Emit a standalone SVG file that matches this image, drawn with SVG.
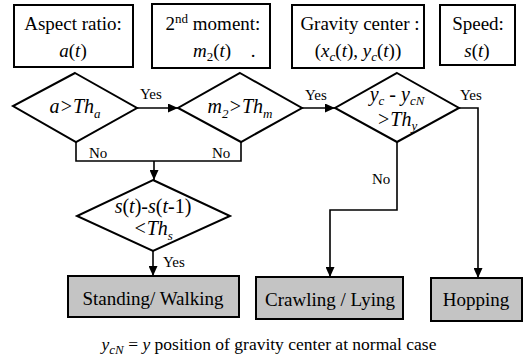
<svg xmlns="http://www.w3.org/2000/svg" width="525" height="359" viewBox="0 0 525 359">
<defs>
<style>
.box{fill:#fff;stroke:#000;stroke-width:2}
.res{fill:#c4c4c4;stroke:#000;stroke-width:2}
.dia{fill:#fff;stroke:#000;stroke-width:2}
text{font-family:'Liberation Serif','Tinos','Times New Roman','Noto Serif','DejaVu Serif',serif}
.t{font-size:19px;text-anchor:middle;fill:#000}
.f{font-size:17.5px;text-anchor:middle;fill:#000}
.d{font-size:20px;text-anchor:middle;fill:#000;font-style:italic}
.i{font-style:italic}
.n{font-style:normal}
.sb{font-size:13px}
.lbl{font-size:15px;fill:#000}
.conn{fill:none;stroke:#000;stroke-width:1.6}
</style>
<marker id="arr" markerUnits="userSpaceOnUse" markerWidth="10" markerHeight="9" refX="10" refY="4.5" orient="auto">
<path d="M0,0 L10,4.5 L0,9 z" fill="#000"/>
</marker>
</defs>
<rect width="525" height="359" fill="#fff"/>

<g id="aspect">
<rect class="box" x="14" y="5" width="119" height="62"/>
<text class="t" x="73" y="30">Aspect ratio:</text>
<text class="t" x="73" y="57"><tspan class="i">a</tspan>(<tspan class="i">t</tspan>)</text>
</g>
<g id="moment">
<rect class="box" x="152" y="4" width="118" height="64"/>
<text class="t" x="213" y="30">2<tspan class="sb" dy="-7">nd</tspan><tspan dy="7">  moment:</tspan></text>
<text class="t" x="212" y="57"><tspan class="i">m</tspan><tspan class="sb" dy="4">2</tspan><tspan dy="-4">(</tspan><tspan class="i">t</tspan>)</text>
<text class="t" x="253" y="57">.</text>
</g>
<g id="gravity">
<rect class="box" x="292" y="5" width="132" height="63"/>
<text class="t" x="360" y="30">Gravity center :</text>
<text class="t" x="358" y="57">(<tspan class="i">x</tspan><tspan class="i sb" dy="4">c</tspan><tspan dy="-4">(</tspan><tspan class="i">t</tspan>), <tspan class="i">y</tspan><tspan class="i sb" dy="4">c</tspan><tspan dy="-4">(</tspan><tspan class="i">t</tspan>))</text>
</g>
<g id="speed">
<rect class="box" x="440" y="5" width="75" height="60"/>
<text class="t" x="478" y="30">Speed:</text>
<text class="t" x="477" y="57"><tspan class="i">s</tspan>(<tspan class="i">t</tspan>)</text>
</g>

<g id="d1">
<polygon class="dia" points="75,73 137,108 76,142 13,106"/>
<text class="d" x="75" y="113">a&gt;Th<tspan class="sb" dy="5">a</tspan></text>
</g>
<g id="d2">
<polygon class="dia" points="240,73 302,108 241,142 178,108"/>
<text class="d" x="240" y="113">m<tspan class="sb" dy="5">2</tspan><tspan dy="-5">&gt;Th</tspan><tspan class="sb" dy="5">m</tspan></text>
</g>
<g id="d3">
<polygon class="dia" points="397,73 459,108 397,142 335,108"/>
<text class="d" x="397" y="101">y<tspan class="sb" dy="4">c</tspan><tspan class="n" dy="-4"> - </tspan>y<tspan class="sb" dy="4">cN</tspan></text>
<text class="d" x="397" y="126">&gt;Th<tspan class="sb" dy="4">y</tspan></text>
</g>
<g id="d4">
<polygon class="dia" points="153,180 230,216 153,251 77,216"/>
<text class="d" x="153" y="213"><tspan>s</tspan><tspan class="n">(</tspan>t<tspan class="n">)-</tspan>s<tspan class="n">(</tspan>t<tspan class="n">-1)</tspan></text>
<text class="d" x="153" y="235">&lt;Th<tspan class="sb" dy="5">s</tspan></text>
</g>

<g id="standing">
<rect class="res" x="68" y="276" width="171" height="41"/>
<text class="t" x="153" y="305">Standing/ Walking</text>
</g>
<g id="crawling">
<rect class="res" x="256" y="277" width="147" height="42"/>
<text class="t" x="330" y="306">Crawling / Lying</text>
</g>
<g id="hopping">
<rect class="res" x="431" y="278" width="91" height="43"/>
<text class="t" x="476" y="306">Hopping</text>
</g>

<g id="connectors">
<line class="conn" x1="137" y1="108" x2="178" y2="108" marker-end="url(#arr)"/>
<line class="conn" x1="302" y1="108" x2="335" y2="108" marker-end="url(#arr)"/>
<polyline class="conn" points="459,108 478,108 478,278" marker-end="url(#arr)"/>
<polyline class="conn" points="76,142 76,161 241,161 241,142"/>
<line class="conn" x1="154" y1="161" x2="154" y2="180" marker-end="url(#arr)"/>
<polyline class="conn" points="397,142 397,210 330,210 330,277" marker-end="url(#arr)"/>
<line class="conn" x1="153" y1="251" x2="153" y2="276" marker-end="url(#arr)"/>
<text class="lbl" x="140" y="99">Yes</text>
<text class="lbl" x="305" y="100">Yes</text>
<text class="lbl" x="460" y="100">Yes</text>
<text class="lbl" x="89" y="158">No</text>
<text class="lbl" x="212" y="158">No</text>
<text class="lbl" x="372" y="184">No</text>
<text class="lbl" x="163" y="267">Yes</text>
</g>

<text class="f" x="269" y="350"><tspan class="i">y</tspan><tspan class="i sb" dy="4">cN</tspan><tspan dy="-4"> = </tspan><tspan class="i">y</tspan> position of gravity center at normal case</text>
</svg>
